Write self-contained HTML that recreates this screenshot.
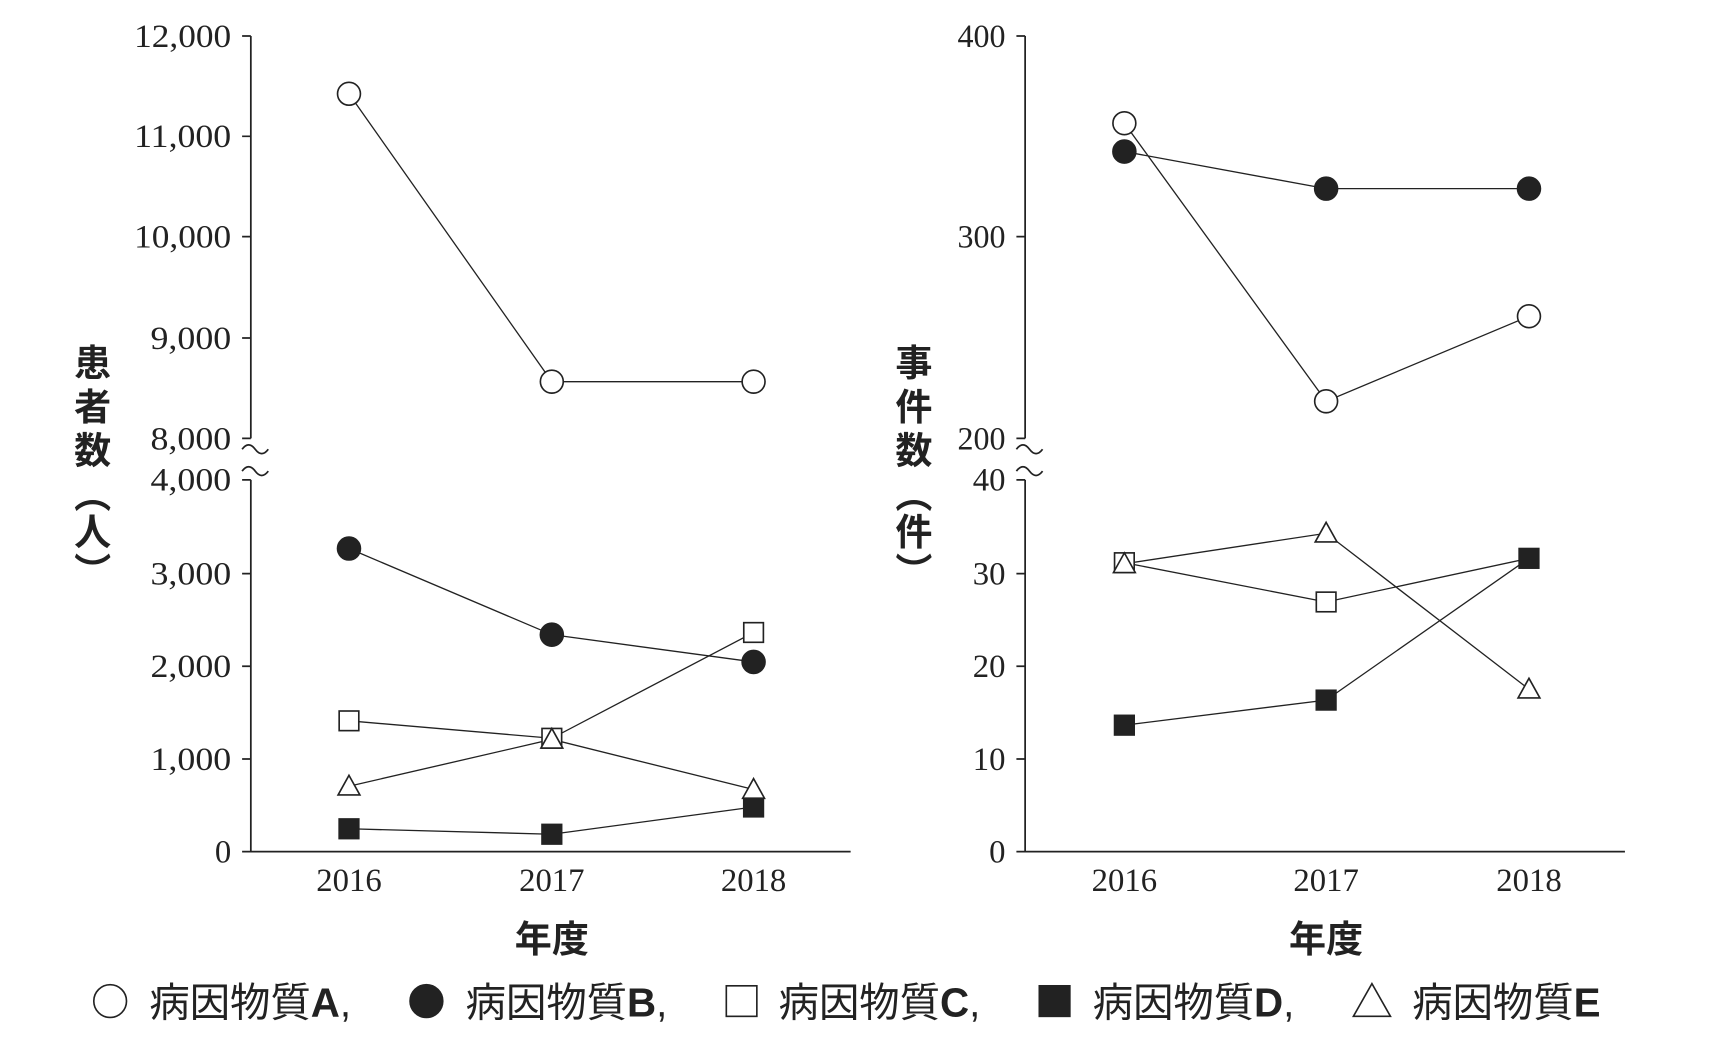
<!DOCTYPE html>
<html><head><meta charset="utf-8"><style>
html,body{margin:0;padding:0;background:#fff;}
svg{display:block}
.t{font-family:"Liberation Serif",serif;font-size:30px;fill:#222}
.j{font-family:"Liberation Sans","Noto Sans CJK JP",sans-serif;font-weight:bold;fill:#222}
</style></head><body>
<svg width="1710" height="1064" viewBox="0 0 1568 975.7" preserveAspectRatio="none" xmlns="http://www.w3.org/2000/svg">
<g stroke="#222" stroke-width="1.6" fill="none">
<path d="M230 33V402M222 33H230M222 125H230M222 217H230M222 310H230M222 402H230"/>
<path d="M230 440V781H780M222 440H230M222 526H230M222 611H230M222 696H230M222 781H230"/>
<path d="M222 412q6-8 12 0t12 0M222 432q6-8 12 0t12 0"/>
<path d="M940 33V402M932 33H940M932 217H940M932 402H940"/>
<path d="M940 440V781H1490M932 440H940M932 526H940M932 611H940M932 696H940M932 781H940"/>
<path d="M932 412q6-8 12 0t12 0M932 432q6-8 12 0t12 0"/>
</g>
<g stroke="#222" stroke-width="1.2" fill="none">
<polyline points="320,86 506,350 691,350"/>
<polyline points="320,503 506,582 691,607"/>
<polyline points="320,661 506,677 691,580"/>
<polyline points="320,760 506,765 691,740"/>
<polyline points="320,721 506,678 691,724"/>
<polyline points="1031,113 1216,368 1402,290"/>
<polyline points="1031,139 1216,173 1402,173"/>
<polyline points="1031,516 1216,552 1402,512"/>
<polyline points="1031,665 1216,642 1402,512"/>
<polyline points="1031,517 1216,489 1402,632"/>
</g>
<g stroke="#222" stroke-width="1.5">
<g fill="#fff"><circle cx="320" cy="86" r="10.5"/><circle cx="506" cy="350" r="10.5"/><circle cx="691" cy="350" r="10.5"/>
<circle cx="1031" cy="113" r="10.5"/><circle cx="1216" cy="368" r="10.5"/><circle cx="1402" cy="290" r="10.5"/></g>
<g fill="#222"><circle cx="320" cy="503" r="10.5"/><circle cx="506" cy="582" r="10.5"/><circle cx="691" cy="607" r="10.5"/>
<circle cx="1031" cy="139" r="10.5"/><circle cx="1216" cy="173" r="10.5"/><circle cx="1402" cy="173" r="10.5"/></g>
<g fill="#fff"><rect x="311" y="652" width="18" height="18"/><rect x="497" y="668" width="18" height="18"/><rect x="682" y="571" width="18" height="18"/>
<rect x="1022" y="507" width="18" height="18"/><rect x="1207" y="543" width="18" height="18"/></g>
<g fill="#222"><rect x="311" y="751" width="18" height="18"/><rect x="497" y="756" width="18" height="18"/><rect x="682" y="731" width="18" height="18"/>
<rect x="1022" y="656" width="18" height="18"/><rect x="1207" y="633" width="18" height="18"/><rect x="1393" y="503" width="18" height="18"/></g>
<g fill="#fff"><path d="M320 711l10 18h-20z"/><path d="M506 668l10 18h-20z"/><path d="M691 714l10 18h-20z"/>
<path d="M1031 507l10 18h-20z"/><path d="M1216 479l10 18h-20z"/><path d="M1402 622l10 18h-20z"/></g>
</g>
<g class="t" text-anchor="end">
<text x="212" y="43" textLength="89" lengthAdjust="spacingAndGlyphs">12,000</text><text x="212" y="135" textLength="89" lengthAdjust="spacingAndGlyphs">11,000</text>
<text x="212" y="227" textLength="89" lengthAdjust="spacingAndGlyphs">10,000</text><text x="212" y="320" textLength="74" lengthAdjust="spacingAndGlyphs">9,000</text>
<text x="212" y="412" textLength="74" lengthAdjust="spacingAndGlyphs">8,000</text><text x="212" y="450" textLength="74" lengthAdjust="spacingAndGlyphs">4,000</text>
<text x="212" y="536" textLength="74" lengthAdjust="spacingAndGlyphs">3,000</text><text x="212" y="621" textLength="74" lengthAdjust="spacingAndGlyphs">2,000</text>
<text x="212" y="706" textLength="74" lengthAdjust="spacingAndGlyphs">1,000</text><text x="212" y="791">0</text>
<text x="922" y="43" textLength="44" lengthAdjust="spacingAndGlyphs">400</text><text x="922" y="227" textLength="44" lengthAdjust="spacingAndGlyphs">300</text><text x="922" y="412" textLength="44" lengthAdjust="spacingAndGlyphs">200</text>
<text x="922" y="450">40</text><text x="922" y="536">30</text><text x="922" y="621">20</text><text x="922" y="706">10</text><text x="922" y="791">0</text>
</g>
<g class="t" text-anchor="middle">
<text x="320" y="817" textLength="60" lengthAdjust="spacingAndGlyphs">2016</text><text x="506" y="817" textLength="60" lengthAdjust="spacingAndGlyphs">2017</text><text x="691" y="817" textLength="60" lengthAdjust="spacingAndGlyphs">2018</text>
<text x="1031" y="817" textLength="60" lengthAdjust="spacingAndGlyphs">2016</text><text x="1216" y="817" textLength="60" lengthAdjust="spacingAndGlyphs">2017</text><text x="1402" y="817" textLength="60" lengthAdjust="spacingAndGlyphs">2018</text>
</g>
<g class="j" font-size="34" text-anchor="middle">
<text x="506" y="873">年度</text><text x="1216" y="873">年度</text>
<text x="85" y="345">患</text><text x="85" y="385">者</text><text x="85" y="425">数</text>
<text x="85" y="466">︵</text><text x="85" y="500">人</text><text x="85" y="536">︶</text>
<text x="838" y="345">事</text><text x="838" y="385">件</text><text x="838" y="425">数</text>
<text x="838" y="466">︵</text><text x="838" y="500">件</text><text x="838" y="536">︶</text>
</g>
<g stroke="#222" stroke-width="1.5">
<circle cx="101" cy="918" r="15" fill="#fff"/>
<circle cx="391" cy="918" r="15" fill="#222"/>
<rect x="666" y="904" width="28" height="28" fill="#fff"/>
<rect x="953" y="904" width="28" height="28" fill="#222"/>
<path d="M1258 902l17 30h-34z" fill="#fff"/>
</g>
<g class="j" font-size="37">
<text x="137" y="932" style="font-weight:normal">病因物質<tspan font-weight="bold">A</tspan>,</text>
<text x="427" y="932" style="font-weight:normal">病因物質<tspan font-weight="bold">B</tspan>,</text>
<text x="714" y="932" style="font-weight:normal">病因物質<tspan font-weight="bold">C</tspan>,</text>
<text x="1002" y="932" style="font-weight:normal">病因物質<tspan font-weight="bold">D</tspan>,</text>
<text x="1295" y="932" style="font-weight:normal">病因物質<tspan font-weight="bold">E</tspan></text>
</g>
</svg>
</body></html>
